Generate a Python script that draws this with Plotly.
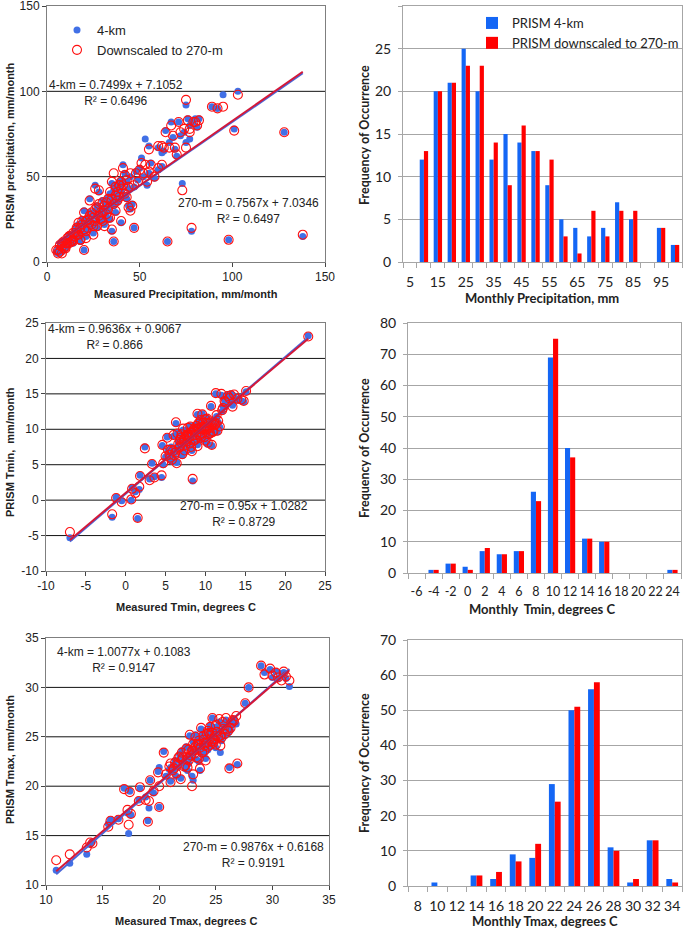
import plotly.graph_objects as go

W, H = 685, 928

# ---------------- Data ----------------
# Precipitation scatter: measured (mm/month), PRISM 4-km, PRISM 270-m
precip_meas = [5,6,6,7,7,8,8,9,9,10,10,11,11,12,12,13,13,14,14,15,15,16,16,17,17,18,18,19,19,20,20,20,21,21,22,22,23,23,24,24,25,25,26,26,26,27,27,28,28,29,29,30,30,31,31,32,32,33,33,34,34,35,35,35,36,36,36,37,37,38,38,39,39,40,40,40,41,41,42,42,43,44,44,45,45,46,47,47,48,49,50,51,52,53,54,55,55,56,58,60,60,62,62,63,64,65,66,67,68,69,70,71,72,73,74,75,75,76,77,77,78,79,80,81,82,89,92,95,98,101,103,128,138,
               8,10,12,14,16,18,21,23,25,28,30,33,37,39,43]
precip_4km = [6,5,8,7,9,6,10,8,11,9,12,10,13,12,14,11,15,13,16,14,18,15,20,17,22,19,14,21,25,18,7,30,23,15,26,19,37,24,28,21,27,17,30,45,23,33,20,26,41,30,24,36,28,32,22,34,27,38,30,40,25,18,36,46,12,42,33,38,45,40,35,44,37,48,23,42,57,46,39,52,47,33,43,50,31,34,20,44,53,48,55,61,50,72,45,68,52,58,49,67,54,64,56,65,77,12,70,82,73,66,62,82,74,46,76,92,70,84,80,72,18,82,84,79,84,91,90,98,13,78,100,76,15,
              12,8,16,11,21,12,19,29,22,32,26,25,29,47,37]
precip_270 = [7,5,7,6,10,5,9,8,12,8,11,11,14,11,15,12,14,13,17,15,17,16,19,16,23,20,13,22,24,19,7,29,24,14,25,20,36,23,29,22,26,16,31,43,24,32,21,27,42,29,25,35,29,33,21,35,28,37,31,41,26,19,37,47,12,52,34,39,44,41,36,45,38,47,24,43,55,45,40,51,48,32,44,52,30,33,20,45,52,47,54,58,52,57,47,66,53,57,50,68,55,68,57,67,76,12,67,80,74,67,63,82,76,42,78,95,67,83,78,76,20,82,82,80,83,91,90,91,13,77,98,76,16,
              11,9,15,12,20,13,18,27,21,34,24,26,30,45,38]

# Precipitation histogram
precip_bins = [5,10,15,20,25,30,35,40,45,50,55,60,65,70,75,80,85,90,95,100]
precip_hist_4km = [0,12,20,21,25,20,12,15,14,13,9,5,4,3,4,7,5,0,4,2]
precip_hist_270 = [0,13,20,21,23,23,14,9,16,13,12,3,1,6,3,6,6,0,4,2]
precip_ticks = [5,15,25,35,45,55,65,75,85,95]

# Tmin scatter
tmin_meas = [-7,-1.7,1.5,-1.2,-0.5,0.7,0.8,1.2,1.7,1.8,2.4,3.0,3.3,3.6,4.5,4.6,4.7,5.2,5.5,5.7,5.8,6.0,6.2,6.3,6.4,6.6,6.8,7.0,7.1,7.3,7.5,7.6,7.8,8.0,8.2,8.3,8.4,8.5,8.6,8.8,9.0,9.0,9.1,9.2,9.4,9.5,9.6,9.8,10.0,10.0,10.2,10.3,10.4,10.6,10.7,10.8,10.9,11.0,11.2,11.3,11.4,11.5,11.8,12.0,12.2,12.5,12.8,13.0,13.4,13.6,14.0,14.5,14.8,15.1,22.9,
             5.9,6.1,6.5,6.7,6.9,7.2,7.4,7.7,7.9,8.1,8.1,8.3,8.5,8.7,8.9,9.1,9.3,9.4,9.6,9.7,9.9,10.1,10.2,10.4,10.5,10.7,10.9,11.1,11.3,11.6,12.1,12.4,13.2,5.0,5.3,5.6,
             7.0,7.4,7.8,8.2,8.6,9.0,9.4,9.8,10.2,10.6,6.8,7.6,8.4,9.2]
tmin_4km = [-5.3,-2.4,-2.6,0.4,-0.1,0.0,1.8,1.2,1.5,3.5,7.5,3.0,5.2,3.3,3.2,7.7,5.0,8.9,6.5,7.5,5.5,9.0,6.8,10.8,5.3,8.1,7.2,9.6,6.3,8.4,7.7,9.2,10.0,8.8,7.4,9.6,2.7,8.2,10.3,9.0,12.1,7.8,11.0,9.4,8.6,10.5,12.2,9.9,11.2,8.3,10.0,7.9,10.6,9.3,13.2,7.7,11.0,9.8,10.4,15.0,11.8,9.6,10.3,14.8,13.3,13.6,14.9,14.2,13.4,14.7,14.1,14.0,13.9,15.3,23.2,
            7.0,6.0,9.5,7.6,8.6,9.9,6.8,8.0,9.4,10.5,8.1,7.0,9.8,8.7,10.6,9.9,8.9,11.5,9.2,10.8,8.6,9.6,11.6,9.1,10.2,10.9,9.5,11.2,10.6,11.0,12.5,14.2,15.0,6.1,7.0,5.8,
            8.0,8.6,9.1,9.7,9.5,10.2,9.8,10.4,10.7,10.0,8.3,9.0,9.3,9.9]
tmin_270 = [-4.5,-2.0,-2.5,0.3,-0.3,0.1,1.6,1.0,1.9,3.4,7.3,2.8,5.1,3.2,3.5,7.8,5.2,8.8,6.4,7.1,5.7,9.2,6.7,11.0,5.2,8.0,7.5,9.3,6.5,8.6,7.8,9.0,10.2,8.9,7.5,9.5,3.0,8.4,10.1,9.2,12.2,7.6,10.8,9.6,8.8,10.3,12.1,10.0,11.4,8.4,10.1,8.1,10.8,9.4,13.3,7.8,10.9,9.7,10.6,15.1,12.0,9.8,10.4,15.0,13.0,13.8,14.7,14.4,13.2,14.9,14.3,14.2,14.0,15.4,23.1,
            6.9,6.3,9.4,7.4,8.8,10.1,7.0,8.3,9.2,10.4,8.0,6.9,9.9,8.5,10.5,10.1,9.1,11.3,9.4,10.9,8.9,9.8,11.5,9.3,10.4,11.1,9.6,11.0,10.8,11.2,12.7,14.0,14.8,6.2,7.1,6.0,
            8.1,8.5,9.3,9.6,9.7,10.1,10.0,10.3,10.9,10.2,8.5,9.2,9.1,10.1]

# Tmin histogram
tmin_bins = [-6,-4,-2,0,2,4,6,8,10,12,14,16,18,20,22,24]
tmin_hist_4km = [0,1,3,2,7,6,7,26,69,40,11,10,0,0,0,1]
tmin_hist_270 = [0,1,3,1,8,6,7,23,75,37,11,10,0,0,0,1]

# Tmax scatter
tmax_meas = [10.9,12.1,13.6,13.9,14.1,15.5,15.7,16.4,16.9,17.2,17.3,17.4,17.5,18.2,18.3,18.8,19.0,19.1,19.2,19.5,19.9,20.0,20.0,20.4,20.6,20.9,21.0,21.3,21.5,21.7,21.9,22.0,22.2,22.4,22.5,22.7,22.8,22.9,23.0,23.1,23.2,23.4,23.5,23.6,23.7,23.8,24.0,24.1,24.2,24.3,24.5,24.6,24.7,24.8,25.0,25.1,25.3,25.4,25.5,25.7,25.9,26.1,26.2,26.4,26.6,26.8,26.9,27.6,27.9,29.0,29.3,29.8,30.0,30.3,30.5,30.8,31.0,31.2,31.5,
             21.2,21.4,21.6,21.8,22.1,22.3,22.6,22.9,23.0,23.3,23.5,23.6,23.9,24.0,24.2,24.4,24.5,24.7,24.9,25.0,25.2,25.4,25.6,25.8,26.0,26.3,26.5,24.3,23.9,22.6,
             22.0,22.5,23.0,23.5,24.0,24.5,25.0,23.2,24.8,21.0]
tmax_4km = [11.5,12.2,13.1,14.1,14.4,16.2,16.6,16.7,19.8,17.3,15.2,19.5,17.1,18.6,19.8,18.9,16.5,17.8,20.6,19.3,21.5,17.9,21.9,23.5,21.0,21.7,20.5,22.1,21.0,22.6,20.8,23.6,22.3,24.0,21.6,25.1,22.9,21.0,20.6,23.5,25.2,24.1,22.5,21.6,25.8,23.2,24.6,22.8,25.1,23.7,26.1,24.3,26.9,25.0,23.9,25.6,26.5,23.4,24.6,25.9,26.7,25.4,21.9,26.2,26.8,26.3,22.2,28.4,30.0,32.2,31.5,31.8,31.0,31.6,30.9,31.4,31.5,30.9,30.1,
            21.5,22.6,21.9,23.2,22.8,21.8,23.9,23.4,24.5,22.7,24.8,23.6,25.2,23.4,24.2,25.5,24.0,25.2,24.5,26.0,24.8,25.3,26.3,25.1,26.0,25.7,26.5,24.9,23.9,22.3,
            22.4,23.0,23.3,24.0,24.4,25.0,25.4,23.8,24.6,21.9]
tmax_270 = [12.5,13.1,13.8,14.3,14.2,15.9,16.5,16.6,19.7,17.6,16.1,19.4,17.2,18.5,19.9,18.6,16.4,18.5,20.6,19.5,21.4,17.9,20.0,23.4,21.2,22.0,20.4,21.8,21.3,22.9,20.7,23.4,22.0,23.8,21.9,25.2,23.1,20.0,21.2,23.3,25.0,24.3,22.8,21.8,25.9,23.4,24.4,22.6,25.3,24.0,26.0,24.5,26.9,24.8,24.2,25.5,26.8,24.1,24.9,25.8,26.9,25.6,21.8,26.4,26.6,27.1,22.3,28.4,30.0,32.2,31.3,31.9,31.2,31.5,31.0,30.7,31.6,31.1,30.7,
            21.6,22.4,22.2,23.0,22.9,22.1,23.7,23.6,24.3,22.9,24.6,23.9,25.1,23.6,24.4,25.4,24.2,25.4,24.7,26.2,25.0,25.1,26.5,25.3,25.8,25.9,26.7,25.6,24.7,22.6,
            22.7,22.8,23.6,24.2,24.1,25.2,25.1,24.0,24.4,22.3]

# Tmax histogram
tmax_bins = [8,10,12,14,16,18,20,22,24,26,28,30,32,34]
tmax_hist_4km = [0,1,0,3,2,9,8,29,50,56,11,1,13,2]
tmax_hist_270 = [0,0,0,3,4,7,12,24,51,58,10,2,13,1]

# Trendline coefficients (slope, intercept, R²) as printed on the chart
fits = {
    "precip": {"4km": (0.7499, 7.1052, 0.6496), "270": (0.7567, 7.0346, 0.6497)},
    "tmin": {"4km": (0.9636, 0.9067, 0.866), "270": (0.95, 1.0282, 0.8729)},
    "tmax": {"4km": (1.0077, 0.1083, 0.9147), "270": (0.9876, 0.6168, 0.9191)},
}

# ---------------- Styling ----------------
BLUE_PT = "#4170E6"
RED_PT = "#FF1010"
BLUE_LN = "#4A66D8"
RED_LN = "#D41838"
BAR_BLUE = "#1466F5"
BAR_RED = "#FF0000"
ARIAL = "Liberation Sans, Arial, sans-serif"
CALIBRI = "Lato, Carlito, Calibri, sans-serif"


def dx(px):
    return px / W


def dy(py):
    return 1 - py / H


def hy(vals):
    # plain hyphen-minus labels like the original (Plotly would use U+2212)
    return [str(v) for v in vals]


fig = go.Figure()

scatter_sets = [
    ("precip", precip_meas, precip_4km, precip_270, "x", "y"),
    ("tmin", tmin_meas, tmin_4km, tmin_270, "x3", "y3"),
    ("tmax", tmax_meas, tmax_4km, tmax_270, "x5", "y5"),
]
for i, (key, xm, y4, y27, xa, ya) in enumerate(scatter_sets):
    first = i == 0
    fig.add_trace(go.Scatter(x=xm, y=y4, mode="markers", xaxis=xa, yaxis=ya,
                             marker=dict(color=BLUE_PT, size=7, line=dict(width=0)),
                             name="4-km", showlegend=first, legend="legend"))
    fig.add_trace(go.Scatter(x=xm, y=y27, mode="markers", xaxis=xa, yaxis=ya,
                             marker=dict(color=RED_PT, size=9, symbol="circle-open", line=dict(width=1.1)),
                             name="Downscaled to 270-m", showlegend=first, legend="legend"))
    x0, x1 = min(xm), max(xm)
    for k, col in (("4km", BLUE_LN), ("270", RED_LN)):
        m, b, _ = fits[key][k]
        fig.add_trace(go.Scatter(x=[x0, x1], y=[m * x0 + b, m * x1 + b], mode="lines",
                                 xaxis=xa, yaxis=ya, line=dict(color=col, width=2),
                                 showlegend=False, hoverinfo="skip"))

hist_sets = [
    (precip_bins, precip_hist_4km, precip_hist_270, "x2", "y2"),
    (tmin_bins, tmin_hist_4km, tmin_hist_270, "x4", "y4"),
    (tmax_bins, tmax_hist_4km, tmax_hist_270, "x6", "y6"),
]
for i, (bins, h4, h27, xa, ya) in enumerate(hist_sets):
    first = i == 0
    fig.add_trace(go.Bar(x=bins, y=h4, xaxis=xa, yaxis=ya, marker=dict(color=BAR_BLUE, line=dict(width=0)),
                         name="PRISM 4-km", showlegend=first, legend="legend2", offsetgroup="a"))
    fig.add_trace(go.Bar(x=bins, y=h27, xaxis=xa, yaxis=ya, marker=dict(color=BAR_RED, line=dict(width=0)),
                         name="PRISM downscaled to 270-m", showlegend=first, legend="legend2", offsetgroup="b"))


def scat_axes(xd, yd, xr, yr, dt):
    common = dict(showgrid=False, zeroline=False, showline=True, linecolor="#7f7f7f", mirror=True,
                  ticks="outside", ticklen=4, tickcolor="#444", automargin=False, tickangle=0,
                  tickfont=dict(family=ARIAL, size=12, color="#222"))
    xt = list(range(xr[0], xr[1] + 1, dt))
    yt = list(range(yr[0], yr[1] + 1, dt))
    xax = dict(domain=[dx(xd[0]), dx(xd[1])], range=xr, tickmode="array", tickvals=xt, ticktext=hy(xt), **common)
    yax = dict(domain=[dy(yd[1]), dy(yd[0])], range=yr, tickmode="array", tickvals=yt, ticktext=hy(yt), **common)
    return xax, yax


def hist_axes(xd, yd, xr, ticks, yr, ydt, step, fs):
    xax = dict(domain=[dx(xd[0]), dx(xd[1])], range=xr, tickmode="array", tickvals=ticks, ticktext=hy(ticks),
               showgrid=False, zeroline=False, showline=True, linecolor="#a6a6a6", mirror=True,
               ticks="", ticklabelstandoff=7, automargin=False, tickangle=0,
               tickfont=dict(family=CALIBRI, size=fs, color="#222"),
               minor=dict(ticks="outside", tick0=xr[0], dtick=step, ticklen=5, tickcolor="#a6a6a6", showgrid=False))
    yax = dict(domain=[dy(yd[1]), dy(yd[0])], range=yr, dtick=ydt, showgrid=True, gridcolor="#a6a6a6",
               gridwidth=1, zeroline=False, showline=True, linecolor="#a6a6a6", mirror=True,
               ticks="outside", ticklen=4, tickcolor="#a6a6a6", automargin=False, ticklabelstandoff=4,
               tickfont=dict(family=CALIBRI, size=14, color="#222"))
    return xax, yax


x1, y1 = scat_axes((47, 325), (6, 262), [0, 150], [0, 150], 50)
x3, y3 = scat_axes((46, 325), (323, 571), [-10, 25], [-10, 25], 5)
x5, y5 = scat_axes((46, 329), (638, 885), [10, 35], [10, 35], 5)
x2, y2 = hist_axes((403, 682), (6, 262), [2.5, 102.5], precip_ticks, [0, 30], 5, 5, 14)
x4, y4 = hist_axes((408, 681), (323, 573), [-7, 25], tmin_bins, [0, 80], 10, 2, 12.5)
x6, y6 = hist_axes((408, 682), (640, 886), [7, 35], tmax_bins, [0, 70], 10, 2, 14)

for ax, anchor in ((x1, "y"), (x2, "y2"), (x3, "y3"), (x4, "y4"), (x5, "y5"), (x6, "y6")):
    ax["anchor"] = anchor
for ax, anchor in ((y1, "x"), (y2, "x2"), (y3, "x3"), (y4, "x4"), (y5, "x5"), (y6, "x6")):
    ax["anchor"] = anchor

# black gridlines in scatter plots (drawn under data)
shapes = []
for yref, xref, vals in (("y", "x", [50, 100]), ("y3", "x3", [-5, 0, 5, 10, 15, 20]), ("y5", "x5", [15, 20, 25, 30])):
    for v in vals:
        shapes.append(dict(type="line", xref=f"{xref} domain", yref=yref, x0=0, x1=1, y0=v, y1=v,
                           line=dict(color="#111", width=1), layer="below"))

annotations = []


def eq_text(label, m, b, r2):
    sign = "+" if b >= 0 else "-"
    return f"{label} = {m:g}x {sign} {abs(b):g}<br>R² = {r2:g}"


for key, xa, ya, pos4, pos27 in (
    ("precip", "x", "y", (37, 99), (108.5, 29.8)),
    ("tmin", "x3", "y3", (-1.3, 23.0), (14.8, -1.9)),
    ("tmax", "x5", "y5", (16.9, 32.8), (28.3, 13.0)),
):
    m, b, r2 = fits[key]["4km"]
    annotations.append(dict(x=pos4[0], y=pos4[1], xref=xa, yref=ya, text=eq_text("4-km", m, b, r2),
                            showarrow=False, align="center", font=dict(family=ARIAL, size=12, color="#222")))
    m, b, r2 = fits[key]["270"]
    annotations.append(dict(x=pos27[0], y=pos27[1], xref=xa, yref=ya, text=eq_text("270-m", m, b, r2),
                            showarrow=False, align="center", font=dict(family=ARIAL, size=12, color="#222")))

# axis titles
titles = [
    ("Measured Precipitation, mm/month", 186, 294, 0, ARIAL, 11),
    ("Measured Tmin, degrees C", 186, 607, 0, ARIAL, 11),
    ("Measured Tmax, degrees C", 187, 921, 0, ARIAL, 11),
    ("PRISM precipitation, mm/month", 10, 146, -90, ARIAL, 11),
    ("PRISM Tmin,  mm/month", 10, 452, -90, ARIAL, 11),
    ("PRISM Tmax, mm/month", 10, 760, -90, ARIAL, 11),
    ("Monthly Precipitation, mm", 542, 298, 0, CALIBRI, 13),
    ("Monthly  Tmin, degrees C", 542, 609, 0, CALIBRI, 13),
    ("Monthly Tmax, degrees C", 545, 921, 0, CALIBRI, 13),
    ("Frequency of Occurrence", 364, 135, -90, CALIBRI, 12.5),
    ("Frequency of Occurrence", 364, 448, -90, CALIBRI, 12.5),
    ("Frequency of Occurrence", 364, 763, -90, CALIBRI, 12.5),
]
for t, px, py, ang, fam, sz in titles:
    annotations.append(dict(x=dx(px), y=dy(py), xref="paper", yref="paper", text=f"<b>{t}</b>",
                            showarrow=False, textangle=ang, xanchor="center", yanchor="middle",
                            font=dict(family=fam, size=sz, color="#222")))

fig.update_layout(
    template="none",
    width=W, height=H, margin=dict(l=0, r=0, t=0, b=0, autoexpand=False),
    paper_bgcolor="white", plot_bgcolor="white",
    xaxis=x1, yaxis=y1, xaxis2=x2, yaxis2=y2, xaxis3=x3, yaxis3=y3,
    xaxis4=x4, yaxis4=y4, xaxis5=x5, yaxis5=y5, xaxis6=x6, yaxis6=y6,
    barmode="group", bargap=0.4, bargroupgap=0,
    shapes=shapes, annotations=annotations,
    legend=dict(x=dx(57), y=dy(15), xanchor="left", yanchor="top", bgcolor="rgba(0,0,0,0)",
                font=dict(family=ARIAL, size=13, color="#222"), itemwidth=30, tracegroupgap=0),
    legend2=dict(x=dx(472), y=dy(8), xanchor="left", yanchor="top", bgcolor="rgba(0,0,0,0)",
                 font=dict(family=CALIBRI, size=13, color="#222"), itemwidth=30, tracegroupgap=0),
    showlegend=True,
)

fig.write_html("out.html", config={"displayModeBar": False},
               post_script="document.body.style.margin='0';document.body.style.overflow='hidden';")
